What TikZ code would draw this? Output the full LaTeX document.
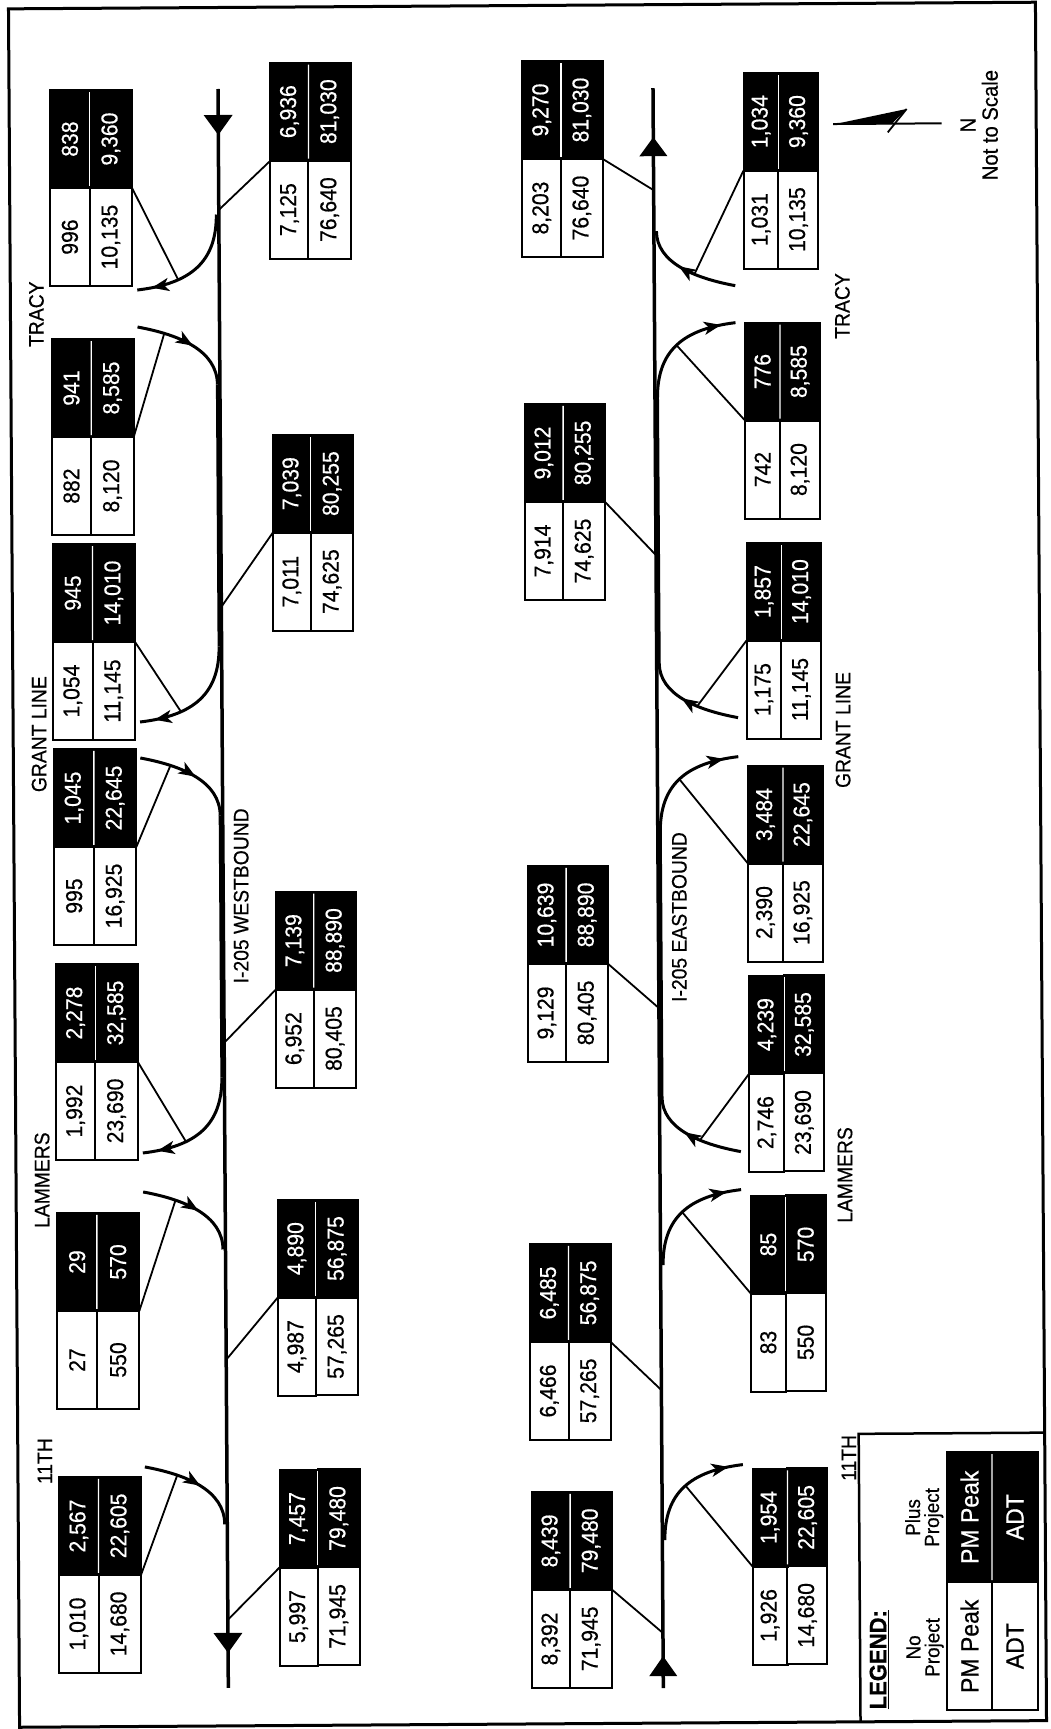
\documentclass[tikz,border=0pt]{standalone}
\usepackage{fontspec}
\setmainfont{Liberation Sans}[FakeStretch=0.92,FakeBold=0.5]
\usepackage{graphicx}
\usetikzlibrary{arrows.meta,decorations.markings}

% One traffic-volume table: #1 name, #2 left x, #3 y of the black/white boundary,
% #4 width of the PM-peak column, #5 width of the ADT column,
% #6/#7 no-project PM peak / ADT, #8/#9 plus-project PM peak / ADT
\newcommand\volbox[9]{%
  \node[wcell, minimum width=#4, anchor=north west] (#1-wp) at (#2,#3) {\rotatebox{90}{#6}};
  \node[wcell, minimum width=#5, anchor=west] (#1-wa) at (#1-wp.east) {\rotatebox{90}{#7}};
  \node[bcell, minimum width=#4, anchor=south west] (#1-bp) at (#2,#3) {\rotatebox{90}{#8}};
  \node[bcell, minimum width=#5, anchor=west] (#1-ba) at (#1-bp.east) {\rotatebox{90}{#9}};
  \draw[white, line width=1.3pt, shorten <=2pt, shorten >=2pt] (#1-bp.south east) -- (#1-bp.north east);
}

\begin{document}
\begin{tikzpicture}[x=1pt, y=-1pt,
  numtext/.style={font=\fontsize{23}{27}\selectfont},
  volcell/.style={draw=black, line width=2pt, inner sep=0pt, outer sep=0pt, minimum height=98pt, numtext},
  wcell/.style={volcell, fill=white, text=black},
  bcell/.style={volcell, fill=black, text=white},
  legcell/.style={draw=black, line width=2pt, inner sep=0pt, outer sep=0pt, font=\fontsize{25}{28}\selectfont},
  roadline/.style={line width=3.5pt},
  rampline/.style={line width=3pt},
  leaderline/.style={line width=1.8pt},
  borderline/.style={line width=3pt},
  roadlabel/.style={rotate=90, inner sep=0pt, font=\fontsize{21}{25}\selectfont},
  arrowat/.style={postaction={decorate, decoration={markings,
      mark=at position #1 with {\arrow{Stealth[length=17pt,width=13pt,inset=4.5pt]}}}}},
]
\fill[white] (0,0) rectangle (1050,1729);
\useasboundingbox (0,0) rectangle (1050,1729);

\begin{scope}[rotate around={0.37:(525,865)}]
% outer frame
\draw[borderline] (14,5.5) rectangle (1041,1724);

% ---------- I-205 westbound mainline ----------
\draw[roadline] (223,87) -- (223,1686);
\fill (208.5,113) -- (237.5,113) -- (223,133) -- cycle;
\fill (208.5,1631) -- (237.5,1631) -- (223,1651) -- cycle;

% westbound ramps and auxiliary lanes
\draw[rampline, arrowat=0.88] (220.5,212.5) .. controls (220.5,259.5) and (195,281.5) .. (141,287.5) coordinate[pos=0.7] (wb-tracy-off);
\draw[rampline, arrowat=0.55] (141,324.5) .. controls (183,332.5) and (220.5,348.5) .. (220.5,382.5) coordinate[pos=0.22] (wb-tracy-on);
\draw[rampline] (220.5,382.5) -- (220.5,644.5);
\draw[rampline, arrowat=0.88] (220.5,644.5) .. controls (220.5,691.5) and (195,713.5) .. (141,719.5) coordinate[pos=0.7] (wb-grant-off);
\draw[rampline, arrowat=0.55] (141,755.5) .. controls (183,763.5) and (220.5,779.5) .. (220.5,813.5) coordinate[pos=0.25] (wb-grant-on);
\draw[rampline] (220.5,813.5) -- (220.5,1075.5);
\draw[rampline, arrowat=0.88] (220.5,1075.5) .. controls (220.5,1122.5) and (195,1144.5) .. (141,1150.5) coordinate[pos=0.68] (wb-lammers-off);
\draw[rampline, arrowat=0.55] (141,1189.5) .. controls (183,1197.5) and (220.5,1213.5) .. (220.5,1247.5) coordinate[pos=0.27] (wb-lammers-on);
\draw[rampline, arrowat=0.55] (141,1464.5) .. controls (183,1472.5) and (220.5,1488.5) .. (220.5,1522.5) coordinate[pos=0.27] (wb-11th-on);

% ---------- I-205 eastbound mainline ----------
\draw[roadline] (658,1689) -- (658,89);
\fill (644,157) -- (672,157) -- (658,138) -- cycle;
\fill (644,1677) -- (672,1677) -- (658,1657) -- cycle;

% eastbound ramps and auxiliary lanes
\draw[rampline, arrowat=0.58] (739,287) .. controls (697,279) and (660.5,263) .. (660.5,232) coordinate[pos=0.35] (eb-tracy-on);
\draw[rampline, arrowat=0.88] (660.5,399) .. controls (660.5,352) and (686,330) .. (739,324) coordinate[pos=0.5] (eb-tracy-off);
\draw[rampline] (660.5,664) -- (660.5,399);
\draw[rampline, arrowat=0.58] (739,719) .. controls (697,711) and (660.5,695) .. (660.5,664) coordinate[pos=0.35] (eb-grant-on);
\draw[rampline, arrowat=0.88] (660.5,833) .. controls (660.5,786) and (686,764) .. (739,758) coordinate[pos=0.5] (eb-grant-off);
\draw[rampline] (660.5,1098) -- (660.5,833);
\draw[rampline, arrowat=0.58] (739,1153) .. controls (697,1145) and (660.5,1129) .. (660.5,1098) coordinate[pos=0.35] (eb-lammers-on);
\draw[rampline, arrowat=0.88] (660.5,1266) .. controls (660.5,1219) and (686,1197) .. (739,1191) coordinate[pos=0.5] (eb-lammers-off);
\draw[rampline, arrowat=0.88] (660.5,1541) .. controls (660.5,1494) and (686,1472) .. (739,1466) coordinate[pos=0.52] (eb-11th-off);

% points on the mainlines reached by the table leaders
\coordinate (wb-p1) at (223,208);
\coordinate (wb-p2) at (223,605);
\coordinate (wb-p3) at (223,1041);
\coordinate (wb-p4) at (223,1358);
\coordinate (wb-p5) at (223,1618);
\coordinate (eb-p1) at (658,191);
\coordinate (eb-p2) at (658,556);
\coordinate (eb-p3) at (658,1009);
\coordinate (eb-p4) at (658,1391);
\coordinate (eb-p5) at (658,1634);

% ---------- volume tables ----------
% westbound ramps
\volbox{wbr1}{54.5}{185}{39.5pt}{42.5pt}{996}{10,135}{838}{9,360}
\volbox{wbr2}{54.5}{434}{39.5pt}{42.5pt}{882}{8,120}{941}{8,585}
\volbox{wbr3}{54.5}{639}{39.5pt}{42.5pt}{1,054}{11,145}{945}{14,010}
\volbox{wbr4}{54.5}{844}{39.5pt}{42.5pt}{995}{16,925}{1,045}{22,645}
\volbox{wbr5}{54.5}{1059}{39.5pt}{42.5pt}{1,992}{23,690}{2,278}{32,585}
\volbox{wbr6}{54.5}{1308}{39.5pt}{42.5pt}{27}{550}{29}{570}
\volbox{wbr7}{54.5}{1572}{39.5pt}{42.5pt}{1,010}{14,680}{2,567}{22,605}
% westbound mainline
\volbox{wbm1}{275}{159}{38pt}{42.5pt}{7,125}{76,640}{6,936}{81,030}
\volbox{wbm2}{275}{531}{38pt}{42.5pt}{7,011}{74,625}{7,039}{80,255}
\volbox{wbm3}{275}{988}{38pt}{42.5pt}{6,952}{80,405}{7,139}{88,890}
\volbox{wbm4}{275}{1296}{38pt}{42.5pt}{4,987}{57,265}{4,890}{56,875}
\volbox{wbm5}{275}{1566}{38pt}{42.5pt}{5,997}{71,945}{7,457}{79,480}
% eastbound mainline
\volbox{ebm1}{527}{159}{38.5pt}{42pt}{8,203}{76,640}{9,270}{81,030}
\volbox{ebm2}{527}{502}{38.5pt}{42pt}{7,914}{74,625}{9,012}{80,255}
\volbox{ebm3}{527}{964}{38.5pt}{42pt}{9,129}{80,405}{10,639}{88,890}
\volbox{ebm4}{527}{1342}{38.5pt}{42pt}{6,466}{57,265}{6,485}{56,875}
\volbox{ebm5}{527}{1590}{38.5pt}{42pt}{8,392}{71,945}{8,439}{79,480}
% eastbound ramps
\volbox{ebr1}{748}{172}{35pt}{40pt}{1,031}{10,135}{1,034}{9,360}
\volbox{ebr2}{748}{422}{35pt}{40pt}{742}{8,120}{776}{8,585}
\volbox{ebr3}{748}{642}{35pt}{40pt}{1,175}{11,145}{1,857}{14,010}
\volbox{ebr4}{748}{865}{35pt}{40pt}{2,390}{16,925}{3,484}{22,645}
\volbox{ebr5}{748}{1075}{35pt}{40pt}{2,746}{23,690}{4,239}{32,585}
\volbox{ebr6}{748}{1295}{35pt}{40pt}{83}{550}{85}{570}
\volbox{ebr7}{748}{1568}{35pt}{40pt}{1,926}{14,680}{1,954}{22,605}

% ---------- leaders from tables to roads ----------
\draw[leaderline] (wbr1-wa.north east) -- (wb-tracy-off);
\draw[leaderline] (wbr2-wa.north east) -- (wb-tracy-on);
\draw[leaderline] (wbr3-wa.north east) -- (wb-grant-off);
\draw[leaderline] (wbr4-wa.north east) -- (wb-grant-on);
\draw[leaderline] (wbr5-wa.north east) -- (wb-lammers-off);
\draw[leaderline] (wbr6-wa.north east) -- (wb-lammers-on);
\draw[leaderline] (wbr7-wa.north east) -- (wb-11th-on);
\draw[leaderline] (wbm1-wp.north west) -- (wb-p1);
\draw[leaderline] (wbm2-wp.north west) -- (wb-p2);
\draw[leaderline] (wbm3-wp.north west) -- (wb-p3);
\draw[leaderline] (wbm4-wp.north west) -- (wb-p4);
\draw[leaderline] (wbm5-wp.north west) -- (wb-p5);
\draw[leaderline] (ebm1-wa.north east) -- (eb-p1);
\draw[leaderline] (ebm2-wa.north east) -- (eb-p2);
\draw[leaderline] (ebm3-wa.north east) -- (eb-p3);
\draw[leaderline] (ebm4-wa.north east) -- (eb-p4);
\draw[leaderline] (ebm5-wa.north east) -- (eb-p5);
\draw[leaderline] (ebr1-wp.north west) -- (eb-tracy-on);
\draw[leaderline] (ebr2-wp.north west) -- (eb-tracy-off);
\draw[leaderline] (ebr3-wp.north west) -- (eb-grant-on);
\draw[leaderline] (ebr4-wp.north west) -- (eb-grant-off);
\draw[leaderline] (ebr5-wp.north west) -- (eb-lammers-on);
\draw[leaderline] (ebr6-wp.north west) -- (eb-lammers-off);
\draw[leaderline] (ebr7-wp.north west) -- (eb-11th-off);

% ---------- street and freeway names ----------
\node[roadlabel] (wb-tracy-name) at (40,311) {TRACY};
\node[roadlabel] (wb-grant-name) at (40,731) {GRANT LINE};
\node[roadlabel] (wb-lammers-name) at (40,1177) {LAMMERS};
\node[roadlabel] (wb-11th-name) at (41,1458) {11TH};
\node[roadlabel] (eb-tracy-name) at (846,308) {TRACY};
\node[roadlabel] (eb-grant-name) at (844,732) {GRANT LINE};
\node[roadlabel] (eb-lammers-name) at (843,1177) {LAMMERS};
\node[roadlabel] (eb-11th-name) at (845,1460) {11TH};
\node[roadlabel] (wb-name) at (241,894) {I-205 WESTBOUND};
\node[roadlabel] (eb-name) at (679,918) {I-205 EASTBOUND};

% ---------- north arrow ----------
\draw[line width=2pt] (838,126) -- (946.5,126);
\fill (838,126.4) -- (911.5,111.4) -- (896.5,126.4) -- cycle;
\draw[line width=1.8pt] (911.5,111.4) -- (892.5,134.7);
\node[rotate=90, align=center, inner sep=0pt, font=\fontsize{22}{22}\selectfont] (north-note) at (984,128) {N\\Not to Scale};

% ---------- legend ----------
\draw[line width=2.5pt] (855,1724) -- (855,1436) -- (1041,1436);
\node[legcell, fill=white, minimum width=45pt, minimum height=128pt, anchor=north west] (leg-wp) at (942.4,1585) {\rotatebox{90}{PM Peak}};
\node[legcell, fill=white, minimum width=46pt, minimum height=128pt, anchor=west] (leg-wa) at (leg-wp.east) {\rotatebox{90}{ADT}};
\node[legcell, fill=black, text=white, minimum width=45pt, minimum height=130pt, anchor=south west] (leg-bp) at (942.4,1585) {\rotatebox{90}{PM Peak}};
\node[legcell, fill=black, text=white, minimum width=46pt, minimum height=130pt, anchor=west] (leg-ba) at (leg-bp.east) {\rotatebox{90}{ADT}};
\draw[white, line width=1.3pt, shorten <=2pt, shorten >=2pt] (leg-bp.south east) -- (leg-bp.north east);
\node[rotate=90, inner sep=0pt, font=\bfseries\fontsize{24}{27}\selectfont] (leg-title) at (874,1662) {\underline{LEGEND:}};
\node[rotate=90, align=center, inner sep=0pt, font=\fontsize{20.5}{19}\selectfont] (leg-noproj) at (920,1650) {No\\Project};
\node[rotate=90, align=center, inner sep=0pt, font=\fontsize{20.5}{19}\selectfont] (leg-plusproj) at (920,1520) {Plus\\Project};
\end{scope}
\end{tikzpicture}
\end{document}
